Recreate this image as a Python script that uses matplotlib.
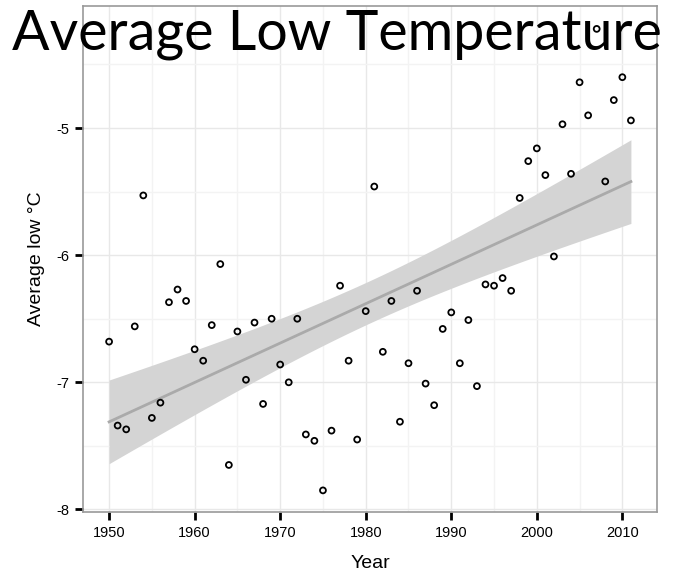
import numpy as np
import matplotlib
matplotlib.use("Agg")
import matplotlib.pyplot as plt
from matplotlib.ticker import MultipleLocator

plt.rcParams["font.family"] = ["Liberation Sans", "DejaVu Sans"]
plt.rcParams["axes.unicode_minus"] = False

# data
years = np.arange(1950, 2012)
low_temp = [-6.68, -7.34, -7.37, -6.56, -5.53, -7.28, -7.16, -6.37, -6.27, -6.36,
            -6.74, -6.83, -6.55, -6.07, -7.65, -6.60, -6.98, -6.53, -7.17, -6.50,
            -6.86, -7.00, -6.50, -7.41, -7.46, -7.85, -7.38, -6.24, -6.83, -7.45,
            -6.44, -5.46, -6.76, -6.36, -7.31, -6.85, -6.28, -7.01, -7.18, -6.58,
            -6.45, -6.85, -6.51, -7.03, -6.23, -6.24, -6.18, -6.28, -5.55, -5.26,
            -5.16, -5.37, -6.01, -4.97, -5.36, -4.64, -4.90, -4.22, -5.42, -4.78,
            -4.60, -4.94]
x_ticks = [1950, 1960, 1970, 1980, 1990, 2000, 2010]
y_ticks = [-8, -7, -6, -5]

x = years.astype(float)
y = np.array(low_temp)

# linear fit with 95% confidence band (like geom_smooth(method="lm"))
b, a = np.polyfit(x, y, 1)
xs = np.linspace(x.min(), x.max(), 200)
fit = a + b * xs
n = len(x)
resid = y - (a + b * x)
s = np.sqrt(np.sum(resid ** 2) / (n - 2))
se = s * np.sqrt(1 / n + (xs - x.mean()) ** 2 / np.sum((x - x.mean()) ** 2))
t = 2.0  # t(0.975, df=60)

fig = plt.figure(figsize=(6.73, 5.75), dpi=100)
ax = fig.add_axes([83 / 673, 63 / 575, 574 / 673, 506 / 575])

ax.fill_between(xs, fit - t * se, fit + t * se, color="#d4d4d4", lw=0, zorder=2)
ax.plot(xs, fit, color="#aaaaaa", lw=2, zorder=3)
ax.scatter(x, y, s=18, facecolors="none", edgecolors="black", linewidths=1.3, zorder=4)

ax.set_xlim(1946.95, 2014.05)
ax.set_ylim(-8.02, -4.04)
ax.set_xticks(x_ticks)
ax.set_yticks(y_ticks)
ax.xaxis.set_minor_locator(MultipleLocator(5))
ax.yaxis.set_minor_locator(MultipleLocator(0.5))
ax.grid(True, which="major", color="#e8e8e8", lw=1, zorder=0)
ax.grid(True, which="minor", color="#f3f3f3", lw=1, zorder=0)
ax.set_axisbelow(True)
ax.tick_params(which="major", length=6, width=2, color="black", labelsize=10.5, pad=4)
ax.tick_params(which="minor", length=0)
for sp in ax.spines.values():
    sp.set_color("#999999")
    sp.set_linewidth(1.2)

ax.set_xlabel("Year", fontsize=14, labelpad=11)
ax.set_ylabel("Average low °C", fontsize=14, labelpad=8)

fig.text(0.5, 1 - 50 / 575, "Average Low Temperature", family="Lato",
         fontsize=40, ha="center", va="baseline", color="black")

fig.savefig("out.png", dpi=100)
